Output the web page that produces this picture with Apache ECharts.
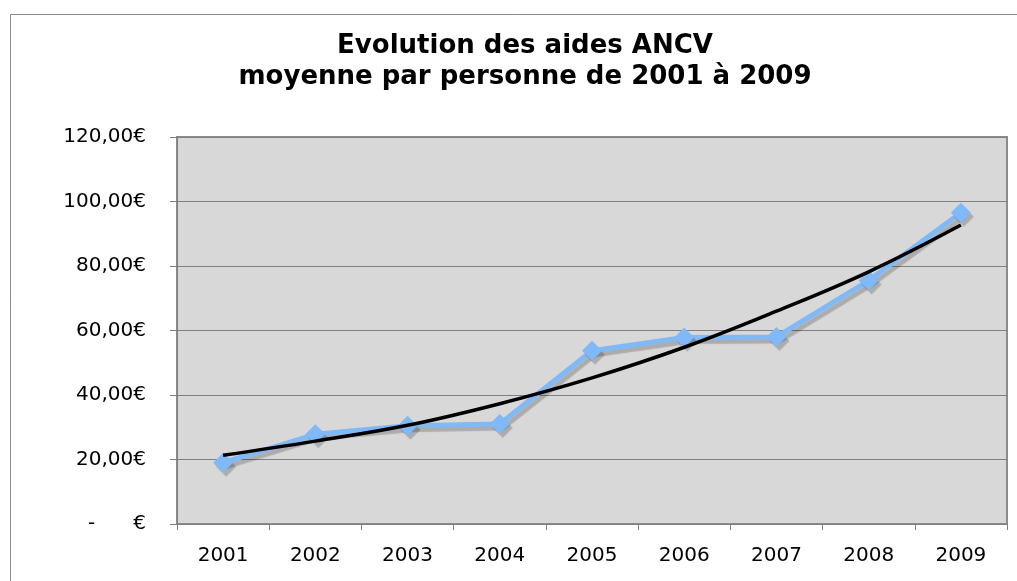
<!DOCTYPE html>
<html>
<head>
<meta charset="utf-8">
<title>Evolution des aides ANCV</title>
<script src="https://cdn.jsdelivr.net/npm/echarts@6.0.0/dist/echarts.min.js"></script>
<style>
	html, body { margin: 0; padding: 0; background: #fff; }
	#main { width: 1017px; height: 581px; }
</style>
</head>
<body>
<div id="main"></div>
<script>
	var years = ["2001", "2002", "2003", "2004", "2005", "2006", "2007", "2008", "2009"];
	var aideMoyenne = [19.0, 27.8, 30.5, 31.0, 53.7, 57.8, 58.0, 75.5, 96.5];
	// courbe de tendance
	var tendance = [21.3, 25.7, 30.6, 37.3, 45.3, 54.8, 66.0, 78.2, 92.7];
	var titre = "Evolution des aides ANCV\nmoyenne par personne de 2001 à 2009";

	var myChart = echarts.init(document.getElementById("main"), null, { renderer: "canvas" });

	function euroFn(v) {
		if (v === 0) return "-      €";
		return v.toFixed(2).replace(".", ",") + "€";
	}

	var option = {
		backgroundColor: "#fff",
		animation: false,
		title: {
			text: titre,
			left: 520,
			textAlign: "center",
			top: 26,
			textStyle: {
				fontFamily: "DejaVu Sans",
				fontWeight: "bold",
				fontSize: 26,
				lineHeight: 31,
				color: "#000"
			}
		},
		graphic: [{
			type: "rect",
			shape: { x: 10.5, y: 14.5, width: 1030, height: 600 },
			style: { fill: "none", stroke: "#8a8a8a", lineWidth: 1 },
			z: -1
		}],
		grid: {
			left: 177,
			right: 10,
			top: 137,
			bottom: 57,
			show: true,
			backgroundColor: "#d8d8d8",
			borderColor: "#8c8c8c",
			borderWidth: 2
		},
		xAxis: {
			type: "category",
			data: years,
			boundaryGap: true,
			axisLine: { lineStyle: { color: "#808080", width: 1 } },
			axisTick: { show: true, length: 6, lineStyle: { color: "#808080" } },
			axisLabel: {
				margin: 22,
				fontFamily: "DejaVu Sans",
				fontSize: 20,
				color: "#000"
			}
		},
		yAxis: {
			type: "value",
			min: 0,
			max: 120,
			interval: 20,
			axisLine: { show: true, lineStyle: { color: "#808080", width: 1 } },
			axisTick: { show: true, length: 7, lineStyle: { color: "#808080" } },
			axisLabel: {
				margin: 31,
				fontFamily: "DejaVu Sans",
				fontSize: 20,
				color: "#000",
				formatter: euroFn
			},
			splitLine: { lineStyle: { color: "#808080", width: 1 } }
		},
		series: [{
			name: "Aide moyenne",
			type: "line",
			data: aideMoyenne,
			symbol: "diamond",
			symbolSize: 20,
			lineStyle: {
				color: "#7fb9f7",
				width: 5,
				shadowColor: "rgba(0,0,0,0.2)",
				shadowOffsetX: 3,
				shadowOffsetY: 4,
				shadowBlur: 1
			},
			itemStyle: {
				color: "#7fb9f7",
				shadowColor: "rgba(0,0,0,0.2)",
				shadowOffsetX: 3,
				shadowOffsetY: 4,
				shadowBlur: 1
			},
			z: 2
		}, {
			name: "Tendance",
			type: "line",
			data: tendance,
			smooth: 0.4,
			showSymbol: false,
			lineStyle: { color: "#000", width: 3.5 },
			z: 3
		}]
	};
	myChart.setOption(option);
</script>
</body>
</html>
